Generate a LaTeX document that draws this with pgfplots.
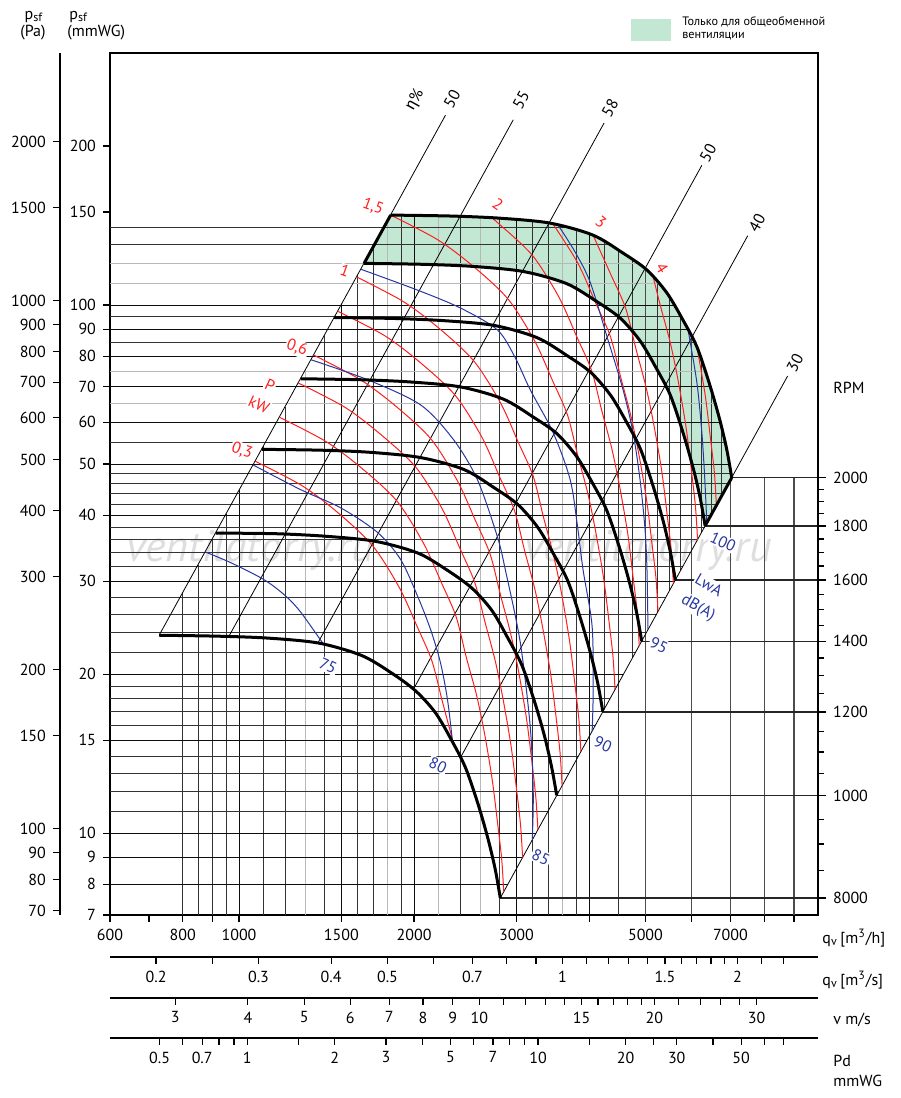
\documentclass[border=0pt]{standalone}
\usepackage{fontspec}
\setmainfont{PT Sans}
\newfontfamily\grk{Fira Sans}
\usepackage{pgfplots}
\pgfplotsset{compat=1.18}
\usepgfplotslibrary{fillbetween}
\definecolor{gfill}{RGB}{194,232,212}
\definecolor{pred}{RGB}{255,30,30}
\definecolor{lblue}{RGB}{40,55,160}
\pgfplotsset{
  gl/.style={black!80, line width=0.4pt},
  gm/.style={black!95, line width=0.45pt},
  gg/.style={black!28, line width=0.5pt},
  gv/.style={black!70, line width=0.6pt},
  fan/.style={black, line width=1.5pt, smooth},
  pw/.style={pred, line width=0.5pt, smooth},
  nz/.style={lblue, line width=0.5pt, smooth},
  eta/.style={black, line width=0.4pt},
}
\newcommand\tk{\fontsize{8}{9}\selectfont}
\newcommand\VL[3]{\addplot[#1] coordinates {(#2,7) (#2,#3)};}
\newcommand\VB[3]{\addplot[gl] coordinates {(#1,#2) (#1,#3)};}
\newcommand\HL[3]{\addplot[#1] coordinates {(600,#2) (#3,#2)};}
\begin{document}
\begin{tikzpicture}
\begin{scope}[x=0.5pt,y=-0.5pt]
\node[text=black!13, font=\itshape\fontsize{22}{22}\selectfont] at (250,550) {ventilatorry.ru};
\node[text=black!13, font=\itshape\fontsize{22}{22}\selectfont] at (648,550) {ventilatorry.ru};
\end{scope}

\begin{axis}[
  at={(55pt,-457.5pt)}, anchor=south west,
  scale only axis, width=354pt, height=431pt,
  xmode=log, ymode=log,
  xmin=600, xmax=9900, ymin=7, ymax=300,
  axis line style={line width=0.8pt},
  xtick={600,700,800,900,1000,1500,2000,3000,4000,5000,6000,7000,8000,9000},
  xticklabels={600,,800,,1000,1500,2000,3000,,5000,,7000,,},
  ytick={7,8,9,10,15,20,30,40,50,60,70,80,90,100,150,200},
  yticklabels={7,8,9,10,15,20,30,40,50,60,70,80,90,100,150,200},
  minor tick style={draw=none},
  tick pos=left, tick align=outside, major tick length=3.5pt,
  tick style={line width=0.6pt, black},
  ticklabel style={font=\tk},
]
% green zone
\addplot[draw=none, name path=A, smooth] coordinates {(1823,148.0) (2310,147.4) (2814,146.0) (3429,142.9) (4063,135.6) (4575,125.4) (5029,116.5) (5443,105.4) (5799,93.7) (6130,83.3) (6450,70.6) (6711,60.6) (6900,53.2) (7036,47.1)};
\addplot[draw=none, name path=B, smooth] coordinates {(1641,119.9) (2079,119.4) (2533,118.3) (3086,115.7) (3657,109.8) (4118,101.6) (4526,94.4) (4899,85.4) (5219,75.9) (5517,67.5) (5805,57.2) (6040,49.1) (6210,43.1) (6332,38.2)};
\addplot[fill=gfill, draw=none] fill between[of=A and B];

% vertical grid
\VL{gl}{800}{28.5}
\VL{gl}{850}{32.2}
\VL{gl}{900}{36.1}
\VL{gl}{950}{40.25}
\VL{gm}{1000}{44.6}
\VL{gl}{1100}{54.0}
\VL{gl}{1200}{64.2}
\VL{gg}{1300}{75.4}
\VL{gl}{1400}{87.4}
\VL{gm}{1500}{100.3}
\VL{gl}{1600}{114.2}
\VL{gl}{1700}{128.9}
\VL{gg}{1800}{144.5}
\VL{gl}{1900}{147.9}
\VL{gm}{2000}{147.8}
\VL{gg}{2200}{147.5}
\VL{gl}{2400}{147.2}
\VL{gg}{2600}{146.8}
\VL{gl}{2800}{146.0}
\VL{gm}{3000}{145.1}
\VL{gl}{3200}{144.1}
\VL{gl}{3400}{143.0}
\VL{gg}{3600}{140.9}
\VL{gl}{3800}{138.6}
\VL{gm}{4000}{136.3}
\VL{gl}{4500}{126.9}
\VL{gv}{5000}{117.1}
\VL{gv}{6000}{87.4}
\VL{gv}{7000}{48.7}
\VL{gv}{8000}{47.1}
\VL{gv}{9000}{47.1}
\VB{4250}{17.2}{131.9}
\VB{4750}{21.5}{122.0}
\VB{5250}{26.2}{110.6}
\VB{5500}{28.8}{103.5}
\VB{5750}{31.5}{95.3}
\VB{6250}{37.2}{78.5}
\VB{6500}{40.2}{68.7}
\VB{6750}{43.4}{59.1}
% horizontal grid
\HL{gm}{8}{2899}
\HL{gm}{9}{3074}
\HL{gm}{10}{3241}
\HL{gl}{11}{3399}
\HL{gl}{12}{3550}
\HL{gl}{13}{3695}
\HL{gl}{14}{3834}
\HL{gm}{15}{3969}
\HL{gl}{16}{4099}
\HL{gl}{17}{4225}
\HL{gl}{18}{4348}
\HL{gl}{19}{4467}
\HL{gm}{20}{4583}
\HL{gl}{22}{4807}
\HL{gl}{24}{5020}
\HL{gl}{26}{5225}
\HL{gl}{28}{5423}
\HL{gm}{30}{5613}
\HL{gl}{32}{5797}
\HL{gl}{34}{5975}
\HL{gl}{36}{6149}
\HL{gl}{38}{6317}
\HL{gm}{40}{6481}
\HL{gl}{42}{6641}
\HL{gl}{44}{6798}
\HL{gl}{46}{6950}
\HL{gl}{48}{7016}
\HL{gm}{50}{6971}
\HL{gl}{55}{6854}
\HL{gm}{60}{6726}
\HL{gg}{65}{6596}
\HL{gm}{70}{6466}
\HL{gg}{75}{6339}
\HL{gm}{80}{6213}
\HL{gl}{85}{6076}
\HL{gm}{90}{5917}
\HL{gl}{95}{5759}
\HL{gm}{100}{5607}
\HL{gg}{110}{5271}
\HL{gg}{120}{4850}
\HL{gl}{130}{4344}
\HL{gl}{140}{3681}
% RPM lines to the right
\addplot[black!85, line width=0.6pt] coordinates {(7036,47.1) (9900,47.1)};
\addplot[black!85, line width=0.6pt] coordinates {(6332,38.151) (9900,38.151)};
\addplot[black!85, line width=0.6pt] coordinates {(5629,30.144) (9900,30.144)};
\addplot[black!85, line width=0.6pt] coordinates {(4925,23.079) (9900,23.079)};
\addplot[black!85, line width=0.6pt] coordinates {(4222,16.956) (9900,16.956)};
\addplot[black!85, line width=0.6pt] coordinates {(3518,11.775) (9900,11.775)};
\addplot[black!85, line width=0.6pt] coordinates {(2814,7.536) (9900,7.536)};

% efficiency lines
\addplot[eta] coordinates {(729,23.7) (2265,228.8)};
\addplot[eta] coordinates {(961,23.6) (2962,224.2)};
\addplot[eta] coordinates {(1366,22.9) (4244,221.1)};
\addplot[eta] coordinates {(1996,18.75) (6251,183.9)};
\addplot[eta] coordinates {(2403,13.9) (7497,135.3)};
\addplot[eta] coordinates {(2814,7.54) (8779,73.4)};

% power lines (kW)
\addplot[pw] coordinates {(1066,50.6) (1283,45.5) (1481,40.4) (1698,35.0) (1886,29.2) (2025,24.6) (2146,21.2) (2236,17.8) (2326,15.1)};
\addplot[pw] coordinates {(1174,61.3) (1413,55.1) (1629,49.0) (1870,42.5) (2076,35.4) (2229,29.8) (2362,25.7) (2460,21.5) (2560,18.3) (2642,15.5) (2726,12.6) (2785,10.4) (2829,8.95) (2853,7.74)};
\addplot[pw] coordinates {(1264,71.2) (1522,64.0) (1755,56.8) (2014,49.3) (2236,41.1) (2401,34.5) (2544,29.8) (2651,25.0) (2758,21.2) (2846,17.9) (2937,14.6) (3001,12.1) (3048,10.4) (3074,8.99)};
\addplot[pw] coordinates {(1343,80.4) (1617,72.2) (1865,64.2) (2140,55.7) (2376,46.4) (2552,39.0) (2704,33.7) (2817,28.2) (2931,23.9) (3024,20.3) (3121,16.5) (3188,13.7) (3239,11.7) (3266,10.15)};
\addplot[pw] coordinates {(1478,97.3) (1780,87.5) (2053,77.7) (2355,67.4) (2616,56.2) (2808,47.2) (2977,40.8) (3100,34.2) (3226,29.0) (3328,24.5) (3435,20.0) (3509,16.6) (3565,14.2) (3594,12.3)};
\addplot[pw] coordinates {(1593,113.0) (1917,101.5) (2212,90.2) (2537,78.2) (2818,65.2) (3025,54.8) (3206,47.4) (3338,39.7) (3474,33.6) (3585,28.5) (3700,23.2) (3780,19.2) (3840,16.5) (3872,14.3)};
\addplot[pw] coordinates {(1823,148.0) (2194,133.0) (2532,118.2) (2904,102.5) (3226,85.4) (3463,71.8) (3670,62.0) (3822,52.0) (3978,44.1) (4104,37.3) (4236,30.4) (4327,25.2) (4396,21.6) (4432,18.7)};
\addplot[pw] coordinates {(2716,146.3) (2786,143.1) (3196,124.1) (3549,103.5) (3811,87.0) (4040,75.1) (4207,63.0) (4377,53.4) (4516,45.2) (4661,36.9) (4761,30.5) (4839,26.2) (4878,22.6)};
\addplot[pw] coordinates {(3465,142.5) (3824,120.1) (4105,100.9) (4351,87.2) (4531,73.1) (4715,61.9) (4865,52.5) (5021,42.8) (5129,35.4) (5212,30.4) (5254,26.3)};
\addplot[pw] coordinates {(4063,135.6) (4362,114.0) (4624,98.5) (4816,82.5) (5011,69.9) (5170,59.2) (5335,48.3) (5449,40.0) (5538,34.3) (5583,29.7)};
\addplot[pw] coordinates {(5152,113.2) (5300,100.0) (5516,84.8) (5692,71.8) (5874,58.5) (6000,48.4) (6095,41.5) (6146,35.9)};
\addplot[pw] coordinates {(6130,83.3) (6329,67.9) (6464,56.2) (6568,48.2) (6622,41.7)};

% sound power lines LwA dB(A)
\addplot[nz] coordinates {(874,34.1) (969,32.5) (1104,30.2) (1204,28.1) (1277,26.2) (1393,22.9)};
\addplot[nz] coordinates {(1057,49.8) (1277,44.7) (1496,41.3) (1731,37.1) (1896,33.0) (2028,28.1) (2135,24.3) (2221,21.0) (2283,17.9) (2329,14.9)};
\addplot[nz] coordinates {(1329,78.8) (1664,72.2) (2052,64.7) (2338,55.6) (2570,46.7) (2782,36.4) (2871,31.5) (3045,23.0) (3168,15.9) (3206,11.95) (3194,9.71)};
\addplot[nz] coordinates {(1619,116.9) (2028,106.7) (2403,98.7) (2782,89.7) (2987,79.4) (3168,69.1) (3470,57.3) (3711,46.7) (3817,38.4) (3906,31.5) (4048,24.6) (4064,18.5) (4048,15.6)};
\addplot[nz] coordinates {(3539,141.6) (3784,126.0) (4016,110.5) (4295,87.0) (4575,69.1) (4760,57.3) (4893,46.7) (4991,37.6) (5030,31.5) (5050,24.3)};
\addplot[nz] coordinates {(5914,90.1) (6130,71.2) (6251,57.3) (6324,46.7) (6374,38.7)};

% fan curves, 800 ... 2000 RPM
\addplot[fan] coordinates {(1823,148.0) (2310,147.4) (2814,146.0) (3429,142.9) (4063,135.6) (4575,125.4) (5029,116.5) (5443,105.4) (5799,93.7) (6130,83.3) (6450,70.6) (6711,60.6) (6900,53.2) (7036,47.1)};
\addplot[fan] coordinates {(1641,119.9) (2079,119.4) (2533,118.3) (3086,115.7) (3657,109.8) (4118,101.6) (4526,94.4) (4899,85.4) (5219,75.9) (5517,67.5) (5805,57.2) (6040,49.1) (6210,43.1) (6332,38.2)};
\addplot[fan] coordinates {(1458,94.7) (1848,94.3) (2251,93.4) (2743,91.5) (3250,86.8) (3660,80.3) (4023,74.6) (4354,67.5) (4639,60.0) (4904,53.3) (5160,45.2) (5369,38.8) (5520,34.0) (5629,30.1)};
\addplot[fan] coordinates {(1276,72.5) (1617,72.2) (1970,71.5) (2400,70.0) (2844,66.4) (3203,61.4) (3520,57.1) (3810,51.6) (4059,45.9) (4291,40.8) (4515,34.6) (4698,29.7) (4830,26.1) (4925,23.1)};
\addplot[fan] coordinates {(1094,53.3) (1386,53.1) (1688,52.6) (2057,51.4) (2438,48.8) (2745,45.1) (3017,41.9) (3266,37.9) (3479,33.7) (3678,30.0) (3870,25.4) (4027,21.8) (4140,19.2) (4222,17.0)};
\addplot[fan] coordinates {(912,37.0) (1155,36.9) (1407,36.5) (1715,35.7) (2032,33.9) (2288,31.4) (2515,29.1) (2722,26.4) (2900,23.4) (3065,20.8) (3225,17.7) (3356,15.2) (3450,13.3) (3518,11.8)};
\addplot[fan] coordinates {(729,23.7) (924,23.6) (1126,23.4) (1372,22.9) (1625,21.7) (1830,20.1) (2012,18.6) (2177,16.9) (2320,15.0) (2452,13.3) (2580,11.3) (2684,9.70) (2760,8.51) (2814,7.54)};
\addplot[black, line width=1.5pt] coordinates {(1641,119.9) (1823,148.0)};
\addplot[black, line width=1.5pt] coordinates {(6332,38.2) (7036,47.1)};
\end{axis}

% RPM axis
\begin{axis}[
  at={(55pt,-457.5pt)}, anchor=south west,
  scale only axis, width=354pt, height=431pt,
  xmode=log, ymode=log, xmin=600, xmax=9900, ymin=7, ymax=300,
  hide x axis, axis y line*=right, axis line style={-, line width=0.8pt},
  ytick={7.536,11.775,16.956,23.079,30.144,38.151,47.1},
  yticklabels={8000,1000,1200,1400,1600,1800,2000},
  minor ytick={8.507,9.538,10.627,12.982,14.248,15.572,18.398,19.900,21.460,24.757,26.494,28.289,32.057,34.030,36.061,40.300,42.508,44.774},
  tick align=outside, major tick length=4pt, minor tick length=3pt,
  tick style={line width=0.6pt, black},
  ticklabel style={font=\tk},
]
\addplot[draw=none] coordinates {(1000,10) (2000,20)};
\end{axis}

% Pa axis
\begin{axis}[
  at={(30pt,-457.5pt)}, anchor=south west,
  scale only axis, width=20pt, height=431pt,
  xmin=0, xmax=1, ymode=log, ymin=68.65, ymax=2942,
  hide x axis, axis y line*=left, axis line style={-, line width=0.8pt},
  ytick={70,80,90,100,150,200,300,400,500,600,700,800,900,1000,1500,2000},
  yticklabels={70,80,90,100,150,200,300,400,500,600,700,800,900,1000,1500,2000},
  minor tick style={draw=none},
  tick align=outside, major tick length=3.5pt,
  tick style={line width=0.6pt, black},
  ticklabel style={font=\tk},
]
\addplot[draw=none] coordinates {(0.5,100) (0.6,200)};
\end{axis}

% extra bottom scales
\begin{axis}[at={(55pt,-478.35pt)}, anchor=south west, scale only axis, width=354pt, height=1pt,
  xmode=log, xmin=600, xmax=9900, ymin=0, ymax=1,
  hide y axis, axis x line*=bottom, axis line style={-, line width=0.8pt},
  tick align=outside, major tick length=3.5pt, tick style={line width=0.6pt, black},
  ticklabel style={font=\tk}, minor tick style={draw=none},
  xtick={720,900,1080,1440,1800,2160,2520,2880,3240,3600,3960,4320,4680,5040,5400,5760,6120,6480,6840,7200,7920,8640},
  xticklabels={0.2,,0.3,0.4,0.5,,0.7,,,1,,,,,1.5,,,,,2,,}]
\addplot[draw=none] coordinates {(1000,0.5) (2000,0.5)};
\end{axis}
\begin{axis}[at={(55pt,-498.85pt)}, anchor=south west, scale only axis, width=354pt, height=1pt,
  xmode=log, xmin=600, xmax=9900, ymin=0, ymax=1,
  hide y axis, axis x line*=bottom, axis line style={-, line width=0.8pt},
  tick align=outside, major tick length=3.5pt, tick style={line width=0.6pt, black},
  ticklabel style={font=\tk}, minor tick style={draw=none},
  xtick={776.7,1035.6,1294.5,1553.4,1812.3,2071,2330,2589,2848,3107,3366,3625,3884,4142,4401,4660,4919,5178,5696,6214,6731,7249,7767},
  xticklabels={3,4,5,6,7,8,9,10,,,,,15,,,,,20,,,,,30}]
\addplot[draw=none] coordinates {(1000,0.5) (2000,0.5)};
\end{axis}
\begin{axis}[at={(55pt,-518.85pt)}, anchor=south west, scale only axis, width=354pt, height=1pt,
  xmode=log, xmin=600, xmax=9900, ymin=0, ymax=1,
  hide y axis, axis x line*=bottom, axis line style={-, line width=0.8pt},
  tick align=outside, major tick length=3.5pt, tick style={line width=0.6pt, black},
  ticklabel style={font=\tk}, minor tick style={draw=none},
  xtick={730.4,800.2,864.3,924.0,980.0,1033,1265,1461,1789,2066,2310,2530,2733,2922,3099,3267,4001,4620,5165,5658,6533,7304,8001,8643},
  xticklabels={0.5,,0.7,,,1,,2,3,,5,,7,,,10,,20,,30,,50,,}]
\addplot[draw=none] coordinates {(1000,0.5) (2000,0.5)};
\end{axis}

% annotations (pixel coordinates of the reference)
\begin{scope}[x=0.5pt,y=-0.5pt,font=\tk]
\node[anchor=base, inner sep=0] at (34,19) {p\textsubscript{sf}};
\node[inner sep=0] at (33,33) {(Pa)};
\node[anchor=base west, inner sep=0] at (69,19) {p\textsubscript{sf}};
\node[anchor=west, inner sep=0] at (67,33) {(mmWG)};
\fill[gfill] (631,19) rectangle (671,41);
\node[anchor=west, inner sep=0, font=\fontsize{6.1}{7}\selectfont] at (682,22) {Только для общеобменной};
\node[anchor=west, inner sep=0, font=\fontsize{6.1}{7}\selectfont] at (682,36) {вентиляции};
\node[anchor=west, inner sep=0] at (833,388) {RPM};
\node[anchor=west, inner sep=0] at (822,938) {q\textsubscript{v}\,[m\textsuperscript{3}/h]};
\node[anchor=west, inner sep=0] at (822,980) {q\textsubscript{v}\,[m\textsuperscript{3}/s]};
\node[anchor=west, inner sep=0] at (833,1020) {v m/s};
\node[anchor=west, inner sep=0] at (833,1061) {Pd};
\node[anchor=west, inner sep=0] at (833,1081) {mmWG};
% efficiency labels
\begin{scope}[every node/.style={rotate=61, inner sep=0}]
\node at (415,100) {{\grk η}\%};
\node at (452,99) {50};
\node at (521,100) {55};
\node at (610,108) {58};
\node at (708,153) {50};
\node at (757,223) {40};
\node at (795,363) {30};
\end{scope}
% power labels
\begin{scope}[every node/.style={text=pred, inner sep=0.6pt}]
\node[rotate=-20, fill=white] at (242,451) {0,3};
\node[rotate=-20, fill=white] at (297,348) {0,6};
\node[rotate=-20, fill=white] at (345,271) {1};
\node[rotate=-20, fill=white] at (373,207) {1,5};
\node[rotate=-25, fill=white] at (270,385) {P};
\node[rotate=-25, fill=white] at (259,405) {kW};
\node[rotate=-35] at (498,204) {2};
\node[rotate=-40] at (601,222) {3};
\node[rotate=-58] at (662,268) {4};
\end{scope}
% sound labels
\begin{scope}[every node/.style={text=lblue, inner sep=0.6pt, rotate=-25}]
\node[fill=white] at (328,666) {75};
\node[fill=white] at (438,765) {80};
\node[fill=white] at (541,857) {85};
\node[fill=white] at (603,744) {90};
\node[fill=white] at (659,645) {95};
\node[fill=white] at (723,542) {100};
\node[fill=white, rotate=-5] at (709,585) {LwA};
\node[fill=white, rotate=-5] at (698,608) {dB(A)};
\end{scope}
\end{scope}
\pgfresetboundingbox
\path[use as bounding box] (0,0) rectangle (450pt,-549pt);
\end{tikzpicture}
\end{document}
